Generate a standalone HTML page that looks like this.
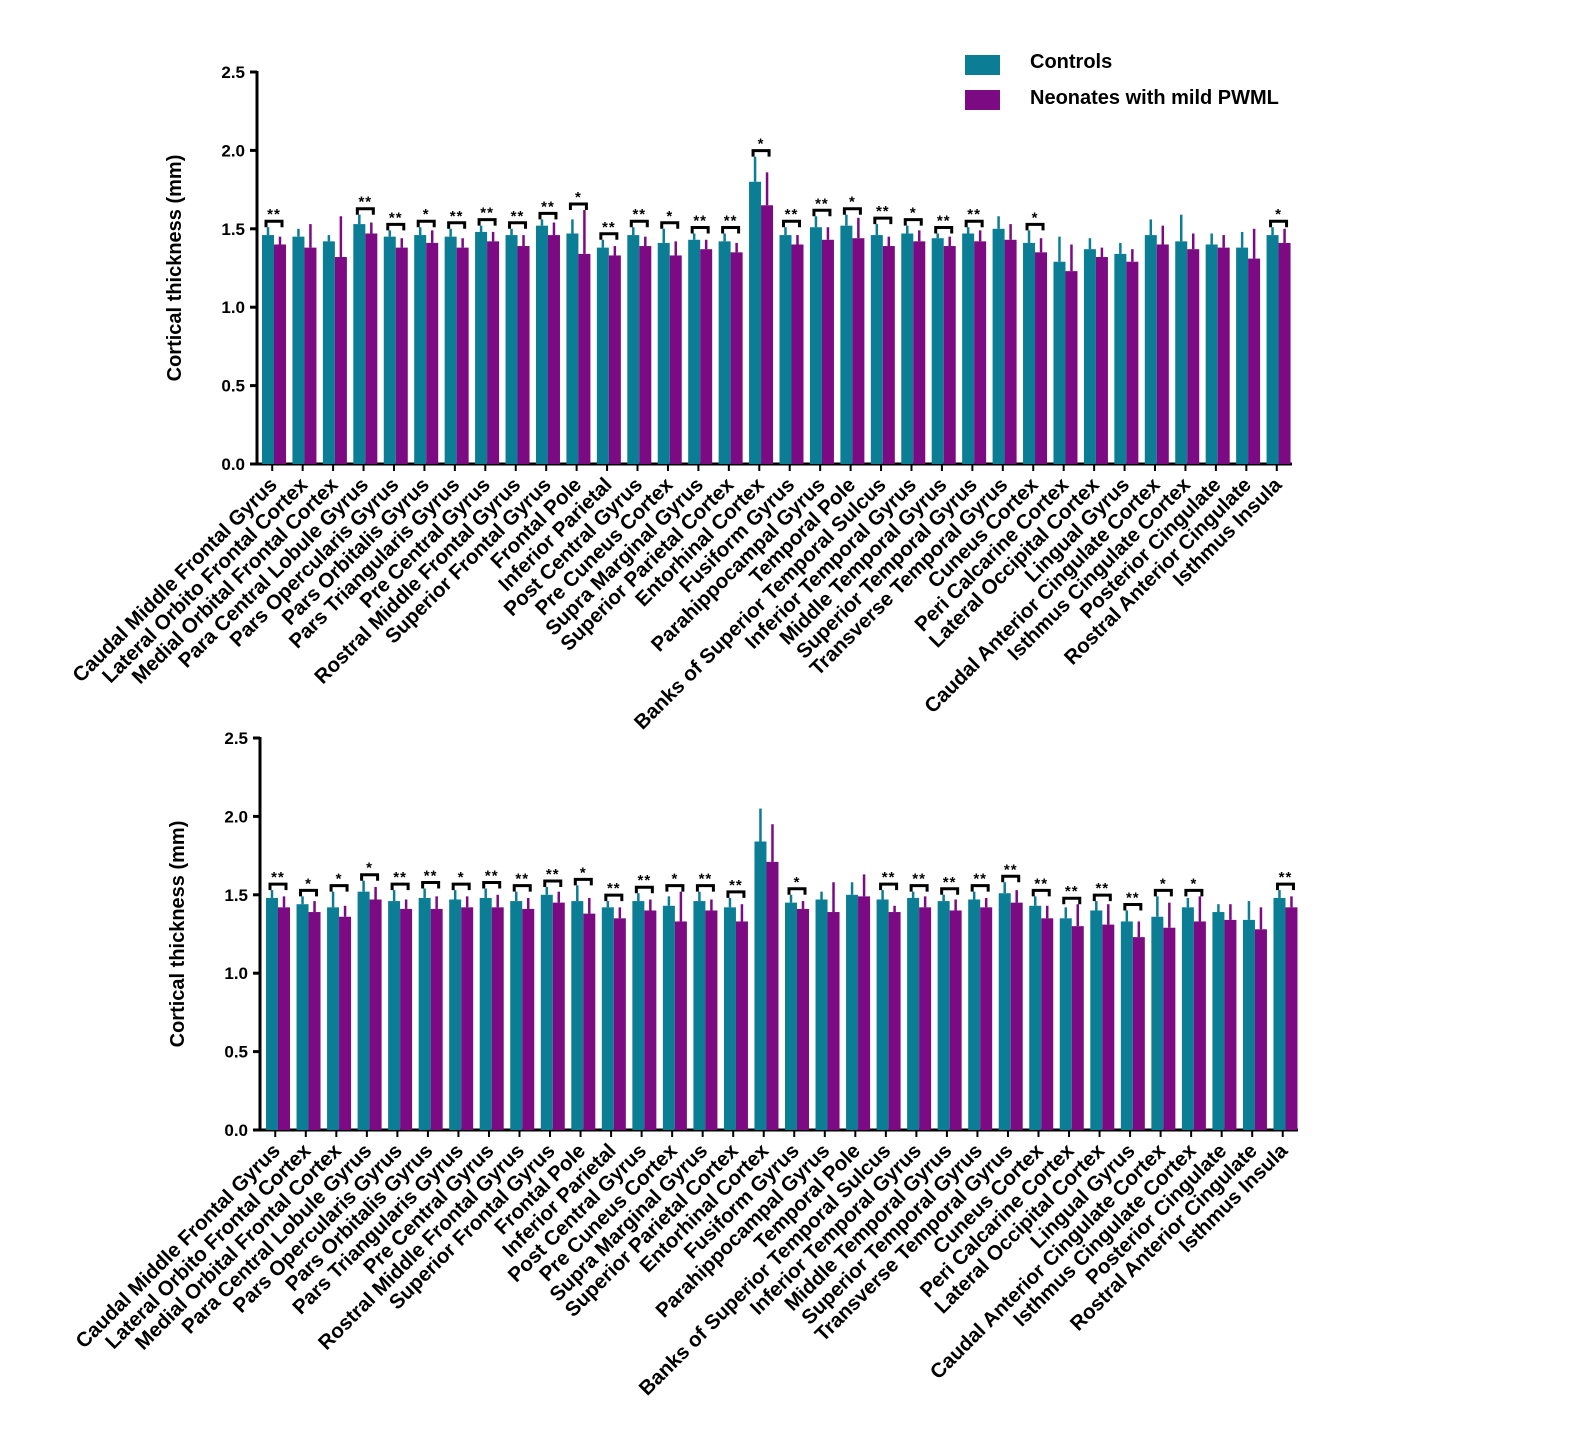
<!DOCTYPE html>
<html><head><meta charset="utf-8">
<style>
html,body{margin:0;padding:0;background:#fff;}
svg{display:block;font-family:"Liberation Sans",Arial,sans-serif;}
</style></head>
<body>
<svg id="chart" width="1586" height="1455" viewBox="0 0 1586 1455" xmlns="http://www.w3.org/2000/svg">
  <g>
    <rect x="965" y="55" width="35" height="20" fill="#0b7d95"/>
    <text x="1030" y="68" font-size="20" font-weight="bold">Controls</text>
    <rect x="965" y="90" width="35" height="20" fill="#7b0a83"/>
    <text x="1030" y="104" font-size="20" font-weight="bold">Neonates with mild PWML</text>
  </g>
</svg>
<script>
const categories = ["Caudal Middle Frontal Gyrus","Lateral Orbito Frontal Cortex","Medial Orbital Frontal Cortex","Para Central Lobule Gyrus","Pars Opercularis Gyrus","Pars Orbitalis Gyrus","Pars Triangularis Gyrus","Pre Central Gyrus","Rostral Middle Frontal Gyrus","Superior Frontal Gyrus","Frontal Pole","Inferior Parietal","Post Central Gyrus","Pre Cuneus Cortex","Supra Marginal Gyrus","Superior Parietal Cortex","Entorhinal Cortex","Fusiform Gyrus","Parahippocampal Gyrus","Temporal Pole","Banks of Superior Temporal Sulcus","Inferior Temporal Gyrus","Middle Temporal Gyrus","Superior Temporal Gyrus","Transverse Temporal Gyrus","Cuneus Cortex","Peri Calcarine Cortex","Lateral Occipital Cortex","Lingual Gyrus","Caudal Anterior Cingulate Cortex","Isthmus Cingulate Cortex","Posterior Cingulate","Rostral Anterior Cingulate","Isthmus Insula"];
const yTicks = [0.0,0.5,1.0,1.5,2.0,2.5];

const topControls = [1.46,1.45,1.42,1.53,1.45,1.46,1.45,1.48,1.46,1.52,1.47,1.38,1.46,1.41,1.43,1.42,1.80,1.46,1.51,1.52,1.46,1.47,1.44,1.47,1.50,1.41,1.29,1.37,1.34,1.46,1.42,1.40,1.38,1.46];
const topControlsErr = [0.05,0.05,0.04,0.06,0.04,0.05,0.05,0.04,0.04,0.04,0.09,0.05,0.05,0.09,0.04,0.05,0.16,0.05,0.07,0.07,0.07,0.05,0.03,0.04,0.08,0.08,0.16,0.07,0.07,0.10,0.17,0.07,0.10,0.05];
const topPwml = [1.40,1.38,1.32,1.47,1.38,1.41,1.38,1.42,1.39,1.46,1.34,1.33,1.39,1.33,1.37,1.35,1.65,1.40,1.43,1.44,1.39,1.42,1.39,1.42,1.43,1.35,1.23,1.32,1.29,1.40,1.37,1.38,1.31,1.41];
const topPwmlErr = [0.05,0.15,0.26,0.07,0.06,0.08,0.06,0.06,0.07,0.08,0.28,0.06,0.06,0.09,0.06,0.06,0.21,0.06,0.08,0.13,0.06,0.07,0.06,0.07,0.10,0.09,0.17,0.06,0.08,0.12,0.10,0.08,0.19,0.09];
const topSig = ["**","","","**","**","*","**","**","**","**","*","**","**","*","**","**","*","**","**","*","**","*","**","**","","*","","","","","","","","*"];

const botControls = [1.48,1.44,1.42,1.52,1.46,1.48,1.47,1.48,1.46,1.50,1.46,1.42,1.46,1.43,1.46,1.42,1.84,1.45,1.47,1.50,1.47,1.48,1.46,1.47,1.51,1.43,1.35,1.40,1.33,1.36,1.42,1.39,1.34,1.48];
const botControlsErr = [0.05,0.05,0.10,0.07,0.07,0.06,0.06,0.06,0.06,0.05,0.10,0.04,0.05,0.06,0.06,0.06,0.21,0.05,0.05,0.08,0.06,0.04,0.04,0.05,0.07,0.06,0.07,0.06,0.07,0.13,0.06,0.05,0.12,0.05];
const botPwml = [1.42,1.39,1.36,1.47,1.41,1.41,1.42,1.42,1.41,1.45,1.38,1.35,1.40,1.33,1.40,1.33,1.71,1.41,1.39,1.49,1.39,1.42,1.40,1.42,1.45,1.35,1.30,1.31,1.23,1.29,1.33,1.34,1.28,1.42];
const botPwmlErr = [0.07,0.07,0.07,0.08,0.06,0.08,0.07,0.08,0.07,0.07,0.10,0.07,0.07,0.19,0.07,0.11,0.24,0.05,0.19,0.14,0.04,0.07,0.07,0.06,0.08,0.08,0.14,0.13,0.10,0.16,0.16,0.10,0.14,0.07];
const botSig = ["**","*","*","*","**","**","*","**","**","**","*","**","**","*","**","**","","*","","","**","**","**","**","**","**","**","**","**","*","*","","","**"];

const NS = "http://www.w3.org/2000/svg";
const svg = document.getElementById("chart");
function mk(tag, attrs, parent){const e=document.createElementNS(NS,tag);for(const k in attrs)e.setAttribute(k,attrs[k]);parent.appendChild(e);return e;}

function drawPanel(cfg){
  const g = mk("g",{},svg);
  
  
  const yS = v => cfg.y0 - (v/2.5)*(cfg.y0-cfg.yTop);
  const n = categories.length;
  const pitch = (cfg.xEnd - cfg.x0)/n;
  const xS = i => cfg.x0 + i*pitch;
  const ax = mk("line",{x1:cfg.x0,y1:cfg.yTop-1,x2:cfg.x0,y2:cfg.y0+1,stroke:"#000","stroke-width":3},g);
  
  
  yTicks.forEach(t=>{
    const tl = mk("line",{x1:cfg.x0-7,y1:yS(t),x2:cfg.x0,y2:yS(t),stroke:"#000","stroke-width":3},g);
    
    
    const tt = mk("text",{x:cfg.x0-12,y:yS(t)+6,"text-anchor":"end","font-size":17,"font-weight":"bold"},g);
    tt.textContent = t.toFixed(1);
    
    
  });
  const yt = mk("text",{x:0,y:0,"text-anchor":"middle","font-size":20,"font-weight":"bold",transform:`translate(${cfg.x0-76},${(cfg.y0+cfg.yTop)/2}) rotate(-90)`},g);
  yt.textContent = "Cortical thickness (mm)";
  
  
  const xa = mk("line",{x1:cfg.x0,y1:cfg.y0,x2:cfg.xEnd,y2:cfg.y0,stroke:"#000","stroke-width":3},g);
  
  
  for(let i=0;i<n;i++){
    const gx = xS(i);
    const tx = gx + pitch/2;
    const tk = mk("line",{x1:tx,y1:cfg.y0,x2:tx,y2:cfg.y0+7,stroke:"#000","stroke-width":2},g);
    
    
    const lb = mk("text",{x:0,y:0,"text-anchor":"end","font-size":20.5,"font-weight":"bold",transform:`translate(${tx+6},${cfg.y0+22}) rotate(-45)`},g);
    lb.textContent = categories[i];
    
    
    const bx1 = gx + cfg.off, bx2 = bx1 + 12;
    const series = [[cfg.c[i],cfg.ce[i],"#0b7d95",bx1,"bar-controls"],[cfg.p[i],cfg.pe[i],"#7b0a83",bx2,"bar-pwml"]];
    series.forEach(s=>{
      const er = mk("line",{x1:s[3]+6,y1:yS(s[0]),x2:s[3]+6,y2:yS(s[0]+s[1]),stroke:s[2],"stroke-width":2.5},g);
      
      
      const r = mk("rect",{x:s[3],y:yS(s[0]),width:12,height:cfg.y0-yS(s[0]),fill:s[2]},g);
      
      
    });
    if(cfg.sig[i]){
      const top = Math.min(yS(cfg.c[i]+cfg.ce[i]), yS(cfg.p[i]+cfg.pe[i])) - 6;
      const xa1 = bx1+4, xa2 = bx2+8;
      const br = mk("path",{d:`M${xa1},${top+6} L${xa1},${top} L${xa2},${top} L${xa2},${top+6}`,stroke:"#000","stroke-width":3,fill:"none"},g);
      
      
      const st = mk("text",{x:(xa1+xa2)/2,y:top-2,"text-anchor":"middle","font-size":15,"font-weight":"bold","letter-spacing":"1"},g);
      st.textContent = cfg.sig[i];
      
      
    }
  }
}
drawPanel({name:"top-chart",x0:257,xEnd:1292,y0:464,yTop:72,off:5,c:topControls,ce:topControlsErr,p:topPwml,pe:topPwmlErr,sig:topSig});
drawPanel({name:"bottom-chart",x0:260,xEnd:1298,y0:1130,yTop:738,off:6,c:botControls,ce:botControlsErr,p:botPwml,pe:botPwmlErr,sig:botSig});
</script>
</body></html>
